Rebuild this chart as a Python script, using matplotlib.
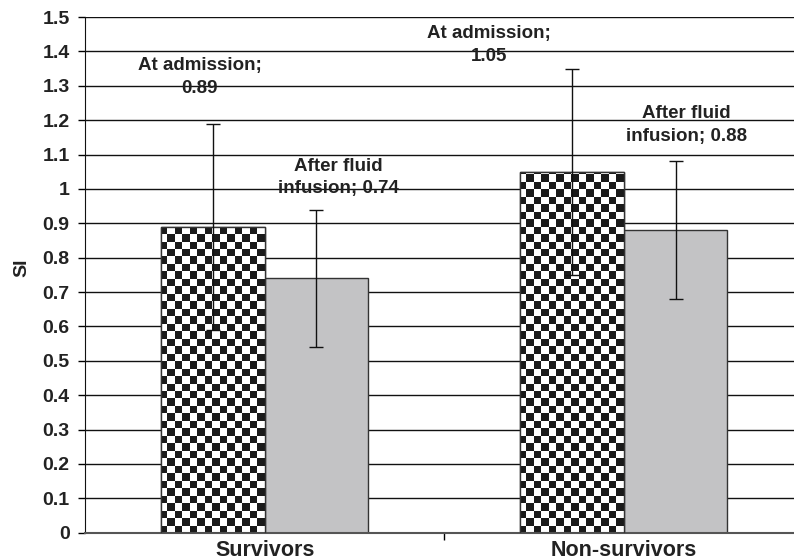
import numpy as np
import matplotlib
matplotlib.use("Agg")
import matplotlib.pyplot as plt
from matplotlib.colors import ListedColormap

plt.rcParams['font.family'] = ['Liberation Sans', 'DejaVu Sans']
plt.rcParams['font.weight'] = 'bold'

# data
groups = ['Survivors', 'Non-survivors']
admission = [0.89, 1.05]
admission_sd = [0.30, 0.30]
fluid = [0.74, 0.88]
fluid_sd = [0.20, 0.20]
yticks = [0, 0.1, 0.2, 0.3, 0.4, 0.5, 0.6, 0.7, 0.8, 0.9, 1, 1.1, 1.2, 1.3, 1.4, 1.5]
ytick_labels = ['0', '0.1', '0.2', '0.3', '0.4', '0.5', '0.6', '0.7', '0.8', '0.9',
                '1', '1.1', '1.2', '1.3', '1.4', '1.5']

fig = plt.figure(figsize=(7.94, 5.59), dpi=100)
ax = fig.add_axes([85/794, 26.3/559, 718.5/794, 515.7/559])

x = np.arange(len(groups))
w = 0.288

# gridlines
ax.set_axisbelow(True)
ax.yaxis.grid(True, color='#111111', linewidth=1.0)

bars_a = ax.bar(x - w/2, admission, w, color='white', edgecolor='#333333', linewidth=1.0, zorder=2)
bars_f = ax.bar(x + w/2, fluid, w, color='#c3c3c5', edgecolor='#333333', linewidth=1.0, zorder=2)

# checkerboard fill for the admission bars
nx, ny = 96, 69
board = (np.add.outer(np.arange(ny), np.arange(nx)) % 2).astype(float)
checker_cmap = ListedColormap(['#1a1a1a', '#ffffff'])
for b in bars_a:
    im = ax.imshow(board, cmap=checker_cmap, vmin=0, vmax=1, extent=(-0.5, 1.5, 0, 1.5),
                   interpolation='nearest', aspect='auto', zorder=2.5, origin='lower')
    im.set_clip_path(b)
    ax.bar(b.get_x() + b.get_width()/2, b.get_height(), b.get_width(), facecolor='none',
           edgecolor='#333333', linewidth=1.0, zorder=2.6)

# error bars
ax.errorbar(x - w/2, admission, yerr=admission_sd, fmt='none', ecolor='#111111',
            elinewidth=1.0, capsize=5, capthick=1.0, zorder=3)
ax.errorbar(x + w/2, fluid, yerr=fluid_sd, fmt='none', ecolor='#111111',
            elinewidth=1.0, capsize=5, capthick=1.0, zorder=3)

# data labels
lab_kw = dict(ha='center', va='center', fontsize=13.5, fontweight='bold',
              color='#222222', linespacing=1.45, zorder=4)
adm_pos = [(-0.181, 1.326), (0.624, 1.418)]
flu_pos = [(0.206, 1.033), (1.175, 1.187)]
for i in range(len(groups)):
    ax.text(*adm_pos[i], 'At admission;\n%.2f' % admission[i], **lab_kw)
    ax.text(*flu_pos[i], 'After fluid\ninfusion; %.2f' % fluid[i], **lab_kw)

ax.set_xlim(-0.5, 1.5)
ax.set_ylim(0, 1.5)
ax.set_yticks(yticks)
ax.set_yticklabels(ytick_labels)
ax.set_xticks(x)
ax.set_xticklabels(groups)
ax.set_xticks([0.5], minor=True)
ax.tick_params(axis='x', which='major', length=0, pad=5.5, labelsize=15.5, labelcolor='#222222')
ax.tick_params(axis='x', which='minor', length=5, width=1, direction='out')
ax.tick_params(axis='y', length=5, width=1, pad=6, labelsize=14, labelcolor='#222222')

for s in ['top', 'right']:
    ax.spines[s].set_visible(False)
ax.spines['left'].set_color('#111111')
ax.spines['bottom'].set_color('#555555')
ax.spines['bottom'].set_linewidth(1.5)

ax.set_ylabel('SI', fontsize=14, fontweight='bold', color='#222222')
ax.yaxis.set_label_coords(-0.0765, 0.513)

fig.savefig('out.png', dpi=100)
